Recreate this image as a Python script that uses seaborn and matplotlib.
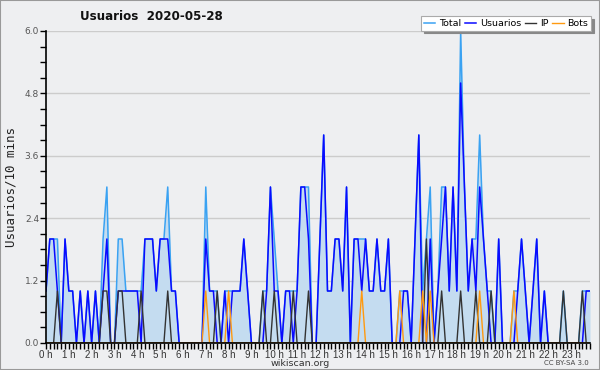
import numpy as np
import pandas as pd
import seaborn as sns
import matplotlib
matplotlib.use("Agg")
import matplotlib.pyplot as plt
from matplotlib.ticker import MultipleLocator, FixedLocator
from matplotlib.patches import Rectangle

# ---- data (10-minute slots, 144 per day) ----
total = [1,2,2,2,0,2,1,1,0,1, 0,1,0,1,0,2,3,0,0,2,
         2,1,1,1,1,1,2,2,2,1, 2,2,3,1,1,0,0,0,0,0,
         0,0,3,1,1,1,0,1,1,1, 1,1,2,1,0,0,0,1,1,3,
         2,1,0,1,1,1,1,3,3,3, 0,0,2,4,1,1,2,2,1,3,
         0,2,2,2,2,1,1,2,1,1, 2,0,0,1,1,1,0,2,4,1,
         2,3,0,1,3,3,1,3,1,6, 3,1,2,2,4,2,1,1,0,2,
         0,0,0,1,1,2,1,0,1,2, 0,1,0,0,0,0,1,0,0,0,
         0,1,1,1]
usuarios = [1,2,2,1,0,2,1,1,0,1, 0,1,0,1,0,1,2,0,0,1,
            1,1,1,1,1,0,2,2,2,1, 2,2,2,1,1,0,0,0,0,0,
            0,0,2,1,1,0,0,1,0,1, 1,1,2,1,0,0,0,0,1,3,
            1,1,0,1,1,0,1,3,3,2, 0,0,2,4,1,1,2,2,1,3,
            0,2,2,1,2,1,1,2,1,1, 2,0,0,0,1,1,0,2,4,0,
            0,2,0,1,2,3,1,3,1,5, 3,1,2,1,3,2,1,0,0,2,
            0,0,0,0,1,2,1,0,1,2, 0,1,0,0,0,0,0,0,0,0,
            0,0,1,1]
ip = [0,0,0,1,0,0,0,0,0,0, 0,0,0,0,0,1,1,0,0,1,
      1,0,0,0,0,1,0,0,0,0, 0,0,1,0,0,0,0,0,0,0,
      0,0,0,0,0,1,0,0,0,0, 0,0,0,0,0,0,0,1,0,0,
      1,0,0,0,0,1,0,0,0,1, 0,0,0,0,0,0,0,0,0,0,
      0,0,0,0,0,0,0,0,0,0, 0,0,0,0,0,0,0,0,0,0,
      2,0,0,0,1,0,0,0,0,1, 0,0,0,1,0,0,0,1,0,0,
      0,0,0,0,0,0,0,0,0,0, 0,0,0,0,0,0,1,0,0,0,
      0,1,0,0]
bots = [0,0,0,0,0,0,0,0,0,0, 0,0,0,0,0,0,0,0,0,0,
        0,0,0,0,0,0,0,0,0,0, 0,0,0,0,0,0,0,0,0,0,
        0,0,1,0,0,0,0,0,1,0, 0,0,0,0,0,0,0,0,0,0,
        0,0,0,0,0,0,0,0,0,0, 0,0,0,0,0,0,0,0,0,0,
        0,0,0,1,0,0,0,0,0,0, 0,0,0,1,0,0,0,0,0,1,
        0,1,0,0,0,0,0,0,0,0, 0,0,0,0,1,0,0,0,0,0,
        0,0,0,1,0,0,0,0,0,0, 0,0,0,0,0,0,0,0,0,0,
        0,0,0,0]
hour_labels = [f"{h} h" for h in range(24)]
y_ticks = [0.0, 1.2, 2.4, 3.6, 4.8, 6.0]

slot = np.arange(len(total))
df = pd.DataFrame({"slot": slot, "Total": total, "Usuarios": usuarios,
                   "IP": ip, "Bots": bots})

bg = "#eeeff1"
fig = plt.figure(figsize=(6, 3.7), dpi=100, facecolor=bg)
ax = fig.add_axes([46/600, 1-343/370, 544/600, 312/370])
ax.set_facecolor(bg)

ax.fill_between(df["slot"], df["Total"], 0, color="#c4dcf0", lw=0, zorder=1)
colors = {"Total": "#3aa2f2", "Usuarios": "#0a0aff", "IP": "#333333", "Bots": "#ff9a10"}
widths = {"Total": 1.1, "Usuarios": 1.1, "IP": 1.0, "Bots": 1.0}
for name in ["Total", "Usuarios", "IP", "Bots"]:
    sns.lineplot(data=df, x="slot", y=name, ax=ax, color=colors[name],
                 lw=widths[name], label=name, zorder=3)

ax.set_xlim(0, len(total) - 1)
ax.set_ylim(0, 6.0)
ax.yaxis.set_major_locator(FixedLocator(y_ticks))
ax.set_yticklabels([f"{v:.1f}" for v in y_ticks])
ax.yaxis.set_minor_locator(MultipleLocator(0.3))
ax.xaxis.set_major_locator(FixedLocator(list(range(0, 144, 6))))
ax.set_xticklabels(hour_labels, family="Liberation Sans")
ax.xaxis.set_minor_locator(MultipleLocator(1))
ax.grid(axis="y", color="#cccccc", lw=1)
ax.grid(axis="x", visible=False)
ax.set_axisbelow(True)

for s in ["top", "right"]:
    ax.spines[s].set_visible(False)
for s in ["left", "bottom"]:
    ax.spines[s].set_color("black")
    ax.spines[s].set_linewidth(1.2)
    ax.spines[s].set_zorder(5)

ax.tick_params(axis="x", which="major", length=4, width=1, labelsize=7, pad=1, colors="black", labelcolor="#333333")
ax.tick_params(axis="x", which="minor", length=4, width=1)
ax.tick_params(axis="y", which="major", length=4, width=1, labelsize=6.5, pad=1, labelcolor="#555555")
ax.tick_params(axis="y", which="minor", length=4, width=1)

ax.set_xlabel("")
ax.set_ylabel("Usuarios/10 mins", family="DejaVu Sans Mono", fontsize=9, color="#222222", labelpad=5)

fig.text(151/600, 1-17/370, "Usuarios  2020-05-28", ha="center", va="center",
         fontsize=8.6, fontweight="bold", color="#111111")
fig.text(300/600, 1-363/370, "wikiscan.org", ha="center", va="center", fontsize=6.8, color="#333333")
fig.text(589/600, 1-363/370, "CC BY-SA 3.0", ha="right", va="center", fontsize=5, color="#444444")

ax.get_legend().remove()
handles, labels = ax.get_legend_handles_labels()
leg = fig.legend(handles, labels, loc="upper right", bbox_to_anchor=(591/600, 1-16/370),
                 ncol=4, fontsize=6.8, frameon=True, fancybox=False,
                 shadow={"color": "#888888", "alpha": 1},
                 handlelength=1.2, handletextpad=0.4, columnspacing=0.4,
                 borderpad=0.3, borderaxespad=0)
leg.get_frame().set_facecolor("white")
leg.get_frame().set_edgecolor("#aaaaaa")
leg.get_frame().set_linewidth(0.8)
leg.set_zorder(10)

fig.patches.append(Rectangle((0, 0), 1, 1, transform=fig.transFigure, fill=False,
                             edgecolor="#999999", lw=1.5, zorder=20))

fig.savefig("out.png", dpi=100, facecolor=bg)
